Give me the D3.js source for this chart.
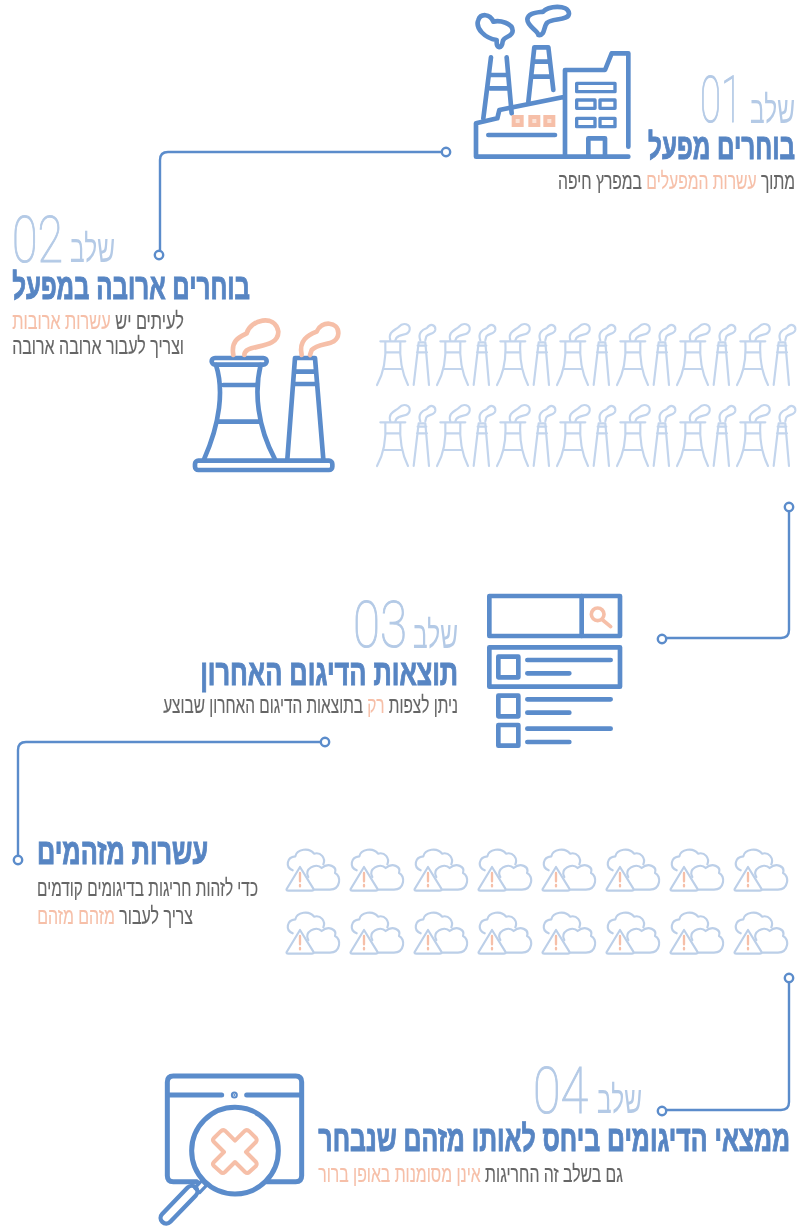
<!DOCTYPE html>
<html lang="he"><head><meta charset="utf-8">
<script src="https://cdn.jsdelivr.net/npm/d3@7"></script>
<style>html,body{margin:0;padding:0;background:#fff}svg{display:block;filter:blur(.4px)}</style></head>
<body><svg id="c" width="798" height="1230"></svg>
<script>
const stepWord = "שלב";
const stepNumbers = ["01","02","03","04"];
const stepTitles = ["בוחרים מפעל","בוחרים ארובה במפעל","תוצאות הדיגום האחרון","עשרות מזהמים","ממצאי הדיגומים ביחס לאותו מזהם שנבחר"];
const line1a = [["מתוך ",0],["עשרות המפעלים",1],[" במפרץ חיפה",0]];
const line2a = [["לעיתים יש ",0],["עשרות ארובות",1]];
const line2b = [["וצריך לעבור ארובה ארובה",0]];
const line3a = [["ניתן לצפות ",0],["רק",1],[" בתוצאות הדיגום האחרון שבוצע",0]];
const line5a = [["כדי לזהות חריגות בדיגומים קודמים",0]];
const line5b = [["צריך לעבור ",0],["מזהם מזהם",1]];
const line4a = [["גם בשלב זה החריגות ",0],["אינן מסומנות באופן ברור",1]];
const chimneyColumns = ["a","b","c","d","e","f","g"];
const chimneyRows = ["r1","r2"];
const cloudColumns = ["a","b","c","d","e","f","g","h"];
const cloudRows = ["r1","r2"];

const BLUE="#5b8ccb", LIGHT="#b4cae6", FADE="#c3d5ed", CLOUD="#bccfe8", ORANGE="#f6bfa8", GRAY="#666", TITLE="#5785c3";
const FONT="'Liberation Sans Narrow','Liberation Sans',sans-serif";
const svg=d3.select("#c");
svg.append("rect").attr("width",798).attr("height",1230).attr("fill","#fff");

function fit(segs,xL,xR,y,size,weight,fill,sw){
  const g=svg.append("g");
  const t=g.append("text").attr("font-family",FONT).attr("font-size",size).attr("font-weight",weight)
    .attr("direction","rtl").attr("text-anchor","start").style("white-space","pre");
  segs.forEach(s=>{const c=s[1]?ORANGE:fill;t.append("tspan").text(s[0]).attr("fill",c).attr("stroke",c).attr("stroke-width",sw||0);});
  const w=t.node().getComputedTextLength();
  g.attr("transform",`translate(${xR},${y}) scale(${(xR-xL)/w},1)`);
}
function num(txt,xL,xR,y,size){
  const g=svg.append("g");
  const t=g.append("text").text(txt).attr("font-family","Roboto,'Liberation Sans',sans-serif").attr("font-size",size)
    .attr("font-weight",100).attr("fill",LIGHT).attr("stroke",LIGHT).attr("stroke-width",1.1);
  const b=t.node().getBBox();
  g.attr("transform",`translate(${xL},${y}) scale(${(xR-xL)/b.width},1)`);
  t.attr("x",-b.x);
}
function word(xL,xR,y){fit([[stepWord,0]],xL,xR,y,38,400,LIGHT,0);}

function conn(d,p,q){
  svg.append("path").attr("d",d).attr("fill","none").attr("stroke",BLUE).attr("stroke-width",2.4);
  [p,q].forEach(c=>svg.append("circle").attr("cx",c[0]).attr("cy",c[1]).attr("r",4.2).attr("fill","#fff").attr("stroke",BLUE).attr("stroke-width",2.4));
}
conn("M445,152H168Q160,152 160,160V254",[446,152],[159,255]);
conn("M789,507V630Q789,638 781,638H662",[789,507],[662,639]);
conn("M325,742H26Q18,742 18,750V860",[325,742],[18,860]);
conn("M789,978V1102Q789,1110 781,1110H662",[789,978],[662,1111]);

const TS=36,TW=1,SS=23,SW=.15;
word(750,795,123); num(stepNumbers[0],700,742,122,64);
fit([[stepTitles[0],0]],648,795,159,TS,700,TITLE,TW);
fit(line1a,558,795,189,SS,400,GRAY,SW);

word(70,115,262); num(stepNumbers[1],12,63,262,64);
fit([[stepTitles[1],0]],12,250,299,TS,700,TITLE,TW);
fit(line2a,12,184,329,SS,400,GRAY,SW);
fit(line2b,12,184,354,SS,400,GRAY,SW);

word(413,458,648); num(stepNumbers[2],353,407,647,64);
fit([[stepTitles[2],0]],200,458,685,TS,700,TITLE,TW);
fit(line3a,163,458,713,SS,400,GRAY,SW);

fit([[stepTitles[3],0]],37,208,864,TS,700,TITLE,TW);
fit(line5a,37,258,896,SS,400,GRAY,SW);
fit(line5b,37,193,924,SS,400,GRAY,SW);

word(597,642,1113); num(stepNumbers[3],533,588,1113,64);
fit([[stepTitles[4],0]],318,790,1151,TS,700,TITLE,TW);
fit(line4a,318,623,1182,SS,400,GRAY,SW);

function icon(ox,oy,sw,color){
  return svg.append("g").attr("transform",`translate(${ox},${oy}) scale(${1/3})`)
    .attr("fill","none").attr("stroke",color).attr("stroke-width",sw).attr("stroke-linecap","round").attr("stroke-linejoin","round");
}
function P(g,d,c,f){const p=g.append("path").attr("d",d);if(c)p.attr("stroke",c);if(f)p.attr("fill",f);return p;}

// factory
let g=icon(440,0,14,BLUE);
P(g,"M565,440V160H515L495,210H375M375,470V210M108,470H565M108,470V370L172,355L178,330L375,290");
P(g,"M145,405H345M445,470V415H495V470");
P(g,"M130,355L153,172M200,172L215,340M155,225H203M150,265H206");
P(g,"M265,305L283,142H325L340,270M285,185H328M279,230H333");
P(g,"M170,120C135,115 105,85 115,60C122,40 150,40 160,65C180,60 218,70 218,92C218,112 190,108 188,125C186,148 168,148 170,120Z");
P(g,"M295,105C293,90 262,80 262,58C264,38 290,38 310,35C320,18 385,12 387,40C388,62 335,55 322,68C310,78 316,108 295,105Z");
g.append("g").attr("stroke-width",10).selectAll("rect").data([[410,250,115,25],[410,300,55,25],[480,300,45,25],[410,355,55,25],[480,355,45,25]])
 .join("rect").attr("x",d=>d[0]).attr("y",d=>d[1]).attr("width",d=>d[2]).attr("height",d=>d[3]);
g.append("g").attr("fill",ORANGE).attr("stroke","none").selectAll("rect").data([215,265,310])
 .join("rect").attr("x",d=>d).attr("y",345).attr("width",36).attr("height",36);
g.append("g").attr("fill","#fbe3d8").attr("stroke","none").selectAll("rect").data([227,277,322])
 .join("rect").attr("x",d=>d).attr("y",357).attr("width",12).attr("height",12);

// big towers
g=icon(0,200,14,BLUE);
g.append("rect").attr("x",585).attr("y",782).attr("width",412).attr("height",28).attr("rx",10);
g.append("rect").attr("x",635).attr("y",474).attr("width",165).attr("height",20).attr("rx",10);
P(g,"M648,495C672,570 660,670 612,778M782,495C762,575 772,680 825,778M670,555H766M655,665H782");
P(g,"M885,474H945L970,778M885,474L862,778M888,515H948M884,552H952");
P(g,"M700,465C692,420 720,410 740,400C750,360 825,340 835,395C835,440 770,435 742,450C735,455 733,460 733,465",ORANGE);
P(g,"M905,465C895,420 925,405 950,395C965,360 1015,365 1015,400C1012,440 960,425 935,450L930,465",ORANGE);

function chimney(sel){
  const q=sel.append("g").attr("transform","scale(.3333)").attr("fill","none").attr("stroke",FADE).attr("stroke-width",6.5).attr("stroke-linecap","round").attr("stroke-linejoin","round");
  P(q,"M10,55H85M25,58C28,110 20,150 0,186M70,58C67,110 75,150 93,186M26,88H70M20,138H76");
  P(q,"M40,52C32,25 55,22 65,12C80,-5 100,5 98,20C96,40 70,30 58,45L55,52");
  P(q,"M125,58L110,186M145,58L156,186M125,58H145M122,68H148M120,88H150");
  P(q,"M130,52C122,30 135,20 150,15C160,0 176,5 175,20C173,35 155,30 148,40L145,52");
}
const cx=d3.scalePoint().domain(chimneyColumns).range([377,737]);
const cy=d3.scalePoint().domain(chimneyRows).range([323,404]);
chimneyRows.forEach(r=>svg.append("g").selectAll("g").data(chimneyColumns).join("g")
  .attr("transform",c=>`translate(${cx(c)},${cy(r)})`).call(chimney));

// document / search
g=icon(150,590,14,BLUE);
g.append("rect").attr("x",1018).attr("y",18).attr("width",392).attr("height",120);
P(g,"M1295,18V138");
g.append("circle").attr("cx",1343).attr("cy",73).attr("r",19).attr("stroke",ORANGE).attr("stroke-width",11);
P(g,"M1358,90L1382,110",ORANGE).attr("stroke-width",11);
g.append("rect").attr("x",1018).attr("y",172).attr("width",392).attr("height",118);
[[200,210,250],[317,328,368],[405,416,456]].forEach(r=>{
  g.append("rect").attr("x",1045).attr("y",r[0]).attr("width",60).attr("height",62);
  P(g,`M1132,${r[1]}H1382M1132,${r[2]}H1258`);
});

function cloud(sel){
  const q=sel.append("g").attr("transform","scale(.3333) translate(-18,-28)").attr("fill","none").attr("stroke",CLOUD).attr("stroke-width",6.5).attr("stroke-linecap","round").attr("stroke-linejoin","round");
  P(q,"M38,92C15,82 20,52 46,50C50,28 88,22 102,42C122,36 138,55 130,74");
  P(q,"M60,82L20,148Q18,153 25,153H95Q103,153 100,147Z");
  P(q,"M85,112C70,88 108,68 125,85C145,68 172,80 165,100C185,108 182,150 150,150H102");
  P(q,"M60,100V125M60,136V140",ORANGE).attr("stroke-width",7);
}
const kx=d3.scalePoint().domain(cloudColumns).range([286,734]);
const ky=d3.scalePoint().domain(cloudRows).range([849,912]);
cloudRows.forEach(r=>svg.append("g").selectAll("g").data(cloudColumns).join("g")
  .attr("transform",c=>`translate(${kx(c)},${ky(r)})`).call(cloud));

// magnifier
g=icon(150,1060,15,BLUE);
P(g,"M140,365H70Q52,365 52,347V66Q52,48 70,48H437Q455,48 455,66V347Q455,365 437,365H350");
P(g,"M55,105H215M290,105H452");
g.append("circle").attr("cx",253).attr("cy",105).attr("r",3).attr("fill",BLUE);
g.append("circle").attr("cx",255).attr("cy",272).attr("r",130);
g.append("rect").attr("x",-72).attr("y",-17).attr("width",144).attr("height",34).attr("rx",17)
  .attr("transform","translate(87,434) rotate(-46)").attr("stroke-width",13).attr("fill","#fff");
g.append("rect").attr("x",-15).attr("y",-10).attr("width",30).attr("height",20)
  .attr("transform","translate(152,380) rotate(-46)").attr("stroke-width",10);
P(g,"M255,242L285,212Q292,208 298,214L318,234Q322,240 318,246L288,276L318,306Q322,312 318,318L298,336Q292,342 285,336L255,306L225,336Q218,342 212,336L192,318Q186,312 192,306L222,276L192,246Q186,240 192,234L212,214Q218,208 225,212Z",ORANGE).attr("stroke-width",12);
</script></body></html>
